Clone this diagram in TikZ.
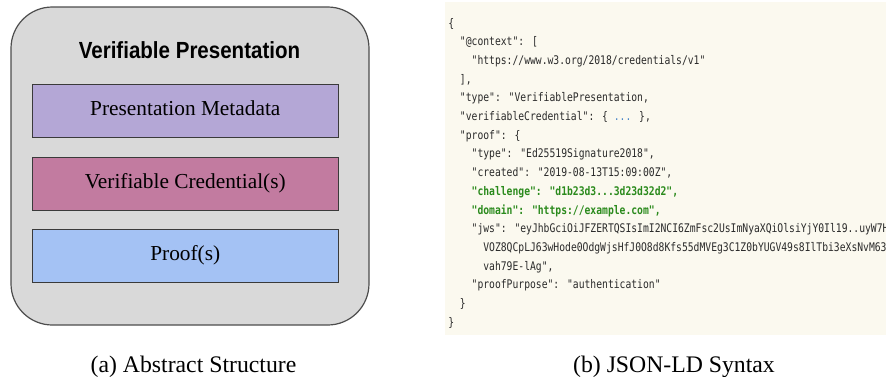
\documentclass[tikz,border=0pt]{standalone}
\usepackage{fontspec}
\setmainfont{Liberation Serif}
\newfontfamily\titlefont[FakeStretch=0.88]{Liberation Sans}
\newfontfamily\codefont[FakeStretch=0.818]{DejaVu Sans Mono}
\definecolor{outerfill}{HTML}{D9D9D9}
\definecolor{outerline}{HTML}{4D4D4D}
\definecolor{boxline}{HTML}{3A3A3A}
\definecolor{metafill}{HTML}{B4A7D6}
\definecolor{credfill}{HTML}{C27BA0}
\definecolor{prooffill}{HTML}{A4C2F4}
\definecolor{creamfill}{HTML}{FBF9EF}
\definecolor{codegray}{HTML}{2A2A2A}
\definecolor{codegreen}{HTML}{2A8A1C}
\definecolor{codeblue}{HTML}{4A86C8}
\begin{document}
\begin{tikzpicture}[x=0.75pt,y=-0.75pt,
  outerbox/.style={draw=outerline,fill=outerfill,line width=0.9pt,rounded corners=31pt,
    minimum width=268.5pt,minimum height=238.5pt,inner sep=0pt,outer sep=0pt},
  partbox/.style={draw=boxline,line width=0.7pt,minimum width=229.5pt,minimum height=39.75pt,
    inner sep=0pt,outer sep=0pt},
  partlabel/.style={anchor=base,inner sep=0pt,font=\fontsize{16pt}{19pt}\selectfont},
  titlelabel/.style={anchor=base,inner sep=0pt,font=\titlefont\bfseries\fontsize{17.5pt}{20pt}\selectfont},
  panel/.style={fill=creamfill,minimum width=330.75pt,minimum height=249.75pt,inner sep=0pt,outer sep=0pt},
  code/.style={anchor=base west,inner sep=0pt,text=codegray,font=\codefont\fontsize{8.9pt}{10pt}\selectfont},
  hl/.style={code,text=codegreen,font=\codefont\bfseries\fontsize{8.9pt}{10pt}\selectfont},
  caption/.style={anchor=base,inner sep=0pt,font=\fontsize{17.8pt}{21pt}\selectfont}]
\useasboundingbox (0,0) rectangle (886,376);
% left panel
\node[outerbox] (outer) at (190,166) {};
\node[titlelabel] (title) at (189.5,58.5) {Verifiable Presentation};
\node[partbox,fill=metafill] (meta) at (185.3,110.8) {};
\node[partbox,fill=credfill] (cred) at (185.3,183.5) {};
\node[partbox,fill=prooffill] (proof) at (185.3,255.7) {};
\node[partlabel] (metat) at ([yshift=-3.4pt]meta.center) {Presentation Metadata};
\node[partlabel] (credt) at ([yshift=-3.4pt]cred.center) {Verifiable Credential(s)};
\node[partlabel] (prooft) at ([yshift=-3.4pt]proof.center) {Proof(s)};
% right panel
\node[panel] (panel) at (665.5,168.5) {};
\begin{scope}
\clip (panel.south west) rectangle (panel.north east);
\node[code] (l0) at (448,27) {\{};
\node[code] (l1) at (459.7,45.7) {"@context": [};
\node[code] (l2) at (471.4,64.4) {"https://www.w3.org/2018/credentials/v1"};
\node[code] (l3) at (459.7,83.1) {],};
\node[code] (l4) at (459.7,101.8) {"type": "VerifiablePresentation,};
\node[code] (l5) at (459.7,120.5) {"verifiableCredential": \{ \textcolor{codeblue}{...} \},};
\node[code] (l6) at (459.7,139.2) {"proof": \{};
\node[code] (l7) at (471.4,157.9) {"type": "Ed25519Signature2018",};
\node[code] (l8) at (471.4,176.6) {"created": "2019-08-13T15:09:00Z",};
\node[hl] (l9) at (471.4,195.3) {"challenge": "d1b23d3...3d23d32d2",};
\node[hl] (l10) at (471.4,214) {"domain": "https://example.com",};
\node[code] (l11) at (471.4,232.7) {"jws": "eyJhbGciOiJFZERTQSIsImI2NCI6ZmFsc2UsImNyaXQiOlsiYjY0Il19..uyW7Hv};
\node[code] (l12) at (483.1,251.4) {VOZ8QCpLJ63wHode0OdgWjsHfJ0O8d8Kfs55dMVEg3C1Z0bYUGV49s8IlTbi3eXsNvM63n};
\node[code] (l13) at (483.1,270.1) {vah79E-lAg",};
\node[code] (l14) at (471.4,288.8) {"proofPurpose": "authentication"};
\node[code] (l15) at (459.7,307.5) {\}};
\node[code] (l16) at (448,326.2) {\}};
\end{scope}
% captions
\node[caption] (capa) at (193.5,372) {(a) Abstract Structure};
\node[caption] (capb) at (674,372) {(b) JSON-LD Syntax};
\end{tikzpicture}
\end{document}
